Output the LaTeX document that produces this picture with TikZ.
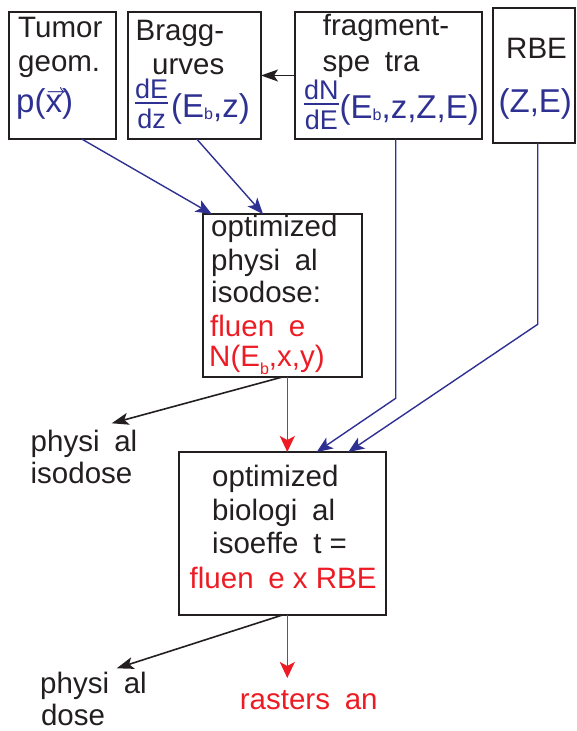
\documentclass[tikz,border=0pt]{standalone}
\usepackage{fontspec}
\setmainfont{Liberation Sans}
\usepackage{amsmath}
\usetikzlibrary{calc, arrows.meta}

\definecolor{myblue}{HTML}{2E3192}
\definecolor{myred}{HTML}{ED1C24}
\definecolor{myblack}{HTML}{231F20}
\setlength\arrayrulewidth{1.6pt}
% gap of one missing letter
\newcommand\cg{\space\kern.222em}
% small fraction, subscript and vector x
\newcommand\frc[2]{\raisebox{-11pt}{\fontsize{27}{20}\selectfont
  \begin{tabular}[b]{@{}c@{}}#1\\[-2.5pt]\hline\rule{0pt}{24pt}#2\end{tabular}}}
\newcommand\sbs[2][2pt]{\raisebox{-#1}{\fontsize{16}{16}\selectfont#2}}
\newcommand\vx{\rlap{\raisebox{16pt}{\kern1pt\fontsize{16}{16}\selectfont$\boldsymbol{\rightarrow}$}}x}

\begin{document}
\begin{tikzpicture}[x=1pt, y=-1pt,
  font=\fontsize{29.5}{33}\selectfont,
  box/.style={draw=myblack, line width=2pt, inner sep=0pt, outer sep=0pt, anchor=north west},
  txt/.style={anchor=base west, inner sep=0pt, text=myblack},
  bl/.style={txt, text=myblue, font=\fontsize{33}{33}\selectfont},
  rd/.style={txt, text=myred},
  barr/.style={draw=myblue, line width=1.4pt, -{Stealth[length=16pt,width=13pt,inset=4pt]}},
  karr/.style={draw=myblack, line width=1.6pt, -{Stealth[length=17pt,width=12pt,inset=4pt]}},
  rarr/.style={draw=myred, line width=1.6pt, -{Stealth[length=16pt,width=15pt,inset=4pt]}}]
  \useasboundingbox (0,0) rectangle (576,731);
  % boxes
  \node[box, minimum width=107pt, minimum height=127pt] (tumor) at (9,12) {};
  \node[box, minimum width=133pt, minimum height=127pt] (bragg) at (128,12) {};
  \node[box, minimum width=187pt, minimum height=127pt] (frag) at (295,12) {};
  \node[box, minimum width=82pt, minimum height=135pt] (rbe) at (493,8) {};
  \node[box, minimum width=159pt, minimum height=163pt] (phys) at (203,214) {};
  \node[box, minimum width=207pt, minimum height=163pt] (bio) at (179,452) {};
  % texts of the top row
  \node[txt] (tum1) at (18,37.3) {Tumor};
  \node[txt] (tum2) at (18,71.5) {geom.};
  \node[bl] (tum3) at (16,112) {p(\vx)};
  \node[txt] (bra1) at (135.4,40) {Bragg-};
  \node[txt] (bra2) at (152,74) {urves};
  \node[bl] (bra3) at (135,117) {\frc{dE}{dz}\kern3pt(E\sbs{b},z)};
  \node[txt] (fra1) at (322.7,35.5) {fragment-};
  \node[txt] (fra2) at (322.5,71.7) {spe\cg tra};
  \node[bl] (fra3) at (304,118) {\frc{dN}{dE}\kern1pt(E\sbs{b},z,Z,E)};
  \node[txt] (rbe1) at (506,58.3) {RBE};
  \node[bl] (rbe2) at (498.4,112) {(Z,E)};
  % physical box
  \node[txt] (phy1) at (211,236.7) {optimized};
  \node[txt] (phy2) at (211,270) {physi\cg al};
  \node[txt] (phy3) at (211,302.7) {isodose:};
  \node[rd] (phy4) at (210,336) {fluen\cg e};
  \node[rd] (phy5) at (209,366.7) {N(E\sbs[8pt]{b},x,y)};
  % biological box
  \node[txt] (bio1) at (212,486.7) {optimized};
  \node[txt] (bio2) at (212,520) {biologi\cg al};
  \node[txt] (bio3) at (212,553.3) {isoeffe\cg t =};
  \node[rd] (bio4) at (189.5,588.3) {fluen\cg e x RBE};
  % outputs
  \node[txt] (iso1) at (30.5,451) {physi\cg al};
  \node[txt] (iso2) at (30.5,483) {isodose};
  \node[txt] (dos1) at (40,693) {physi\cg al};
  \node[txt] (dos2) at (40.8,725) {dose};
  \node[rd] (ras) at (239.7,709.3) {rasters\cg an};
  % connectors
  \draw[barr] ($(tumor.south)+(19.2,0)$) -- ($(phys.north west)+(8.7,0)$);
  \draw[barr] ($(bragg.south)+(2.2,0)$) -- ($(phys.north west)+(60,0)$);
  \draw[karr] (frag.west) -- (bragg.east);
  \draw[barr] ($(frag.south)+(7.2,0)$) -- ++(0,259.3) -- ($(bio.north west)+(137.7,0)$);
  \draw[barr] ($(rbe.south)+(3.7,0)$) -- ++(0,181.3) -- ($(bio.north west)+(169.3,0)$);
  \draw[karr] (phys.south) -- ($(iso1.base west)+(81.2,-27.7)$);
  \draw[rarr] ($(phys.south)+(4.8,0)$) -- ($(bio.north)+(4.8,0)$);
  \draw[karr] (bio.south) -- ($(dos1.base west)+(76.7,-24.7)$);
  \draw[rarr] ($(bio.south)+(4.8,0)$) -- ($(ras.base west)+(47.6,-31.3)$);
\end{tikzpicture}
\end{document}
